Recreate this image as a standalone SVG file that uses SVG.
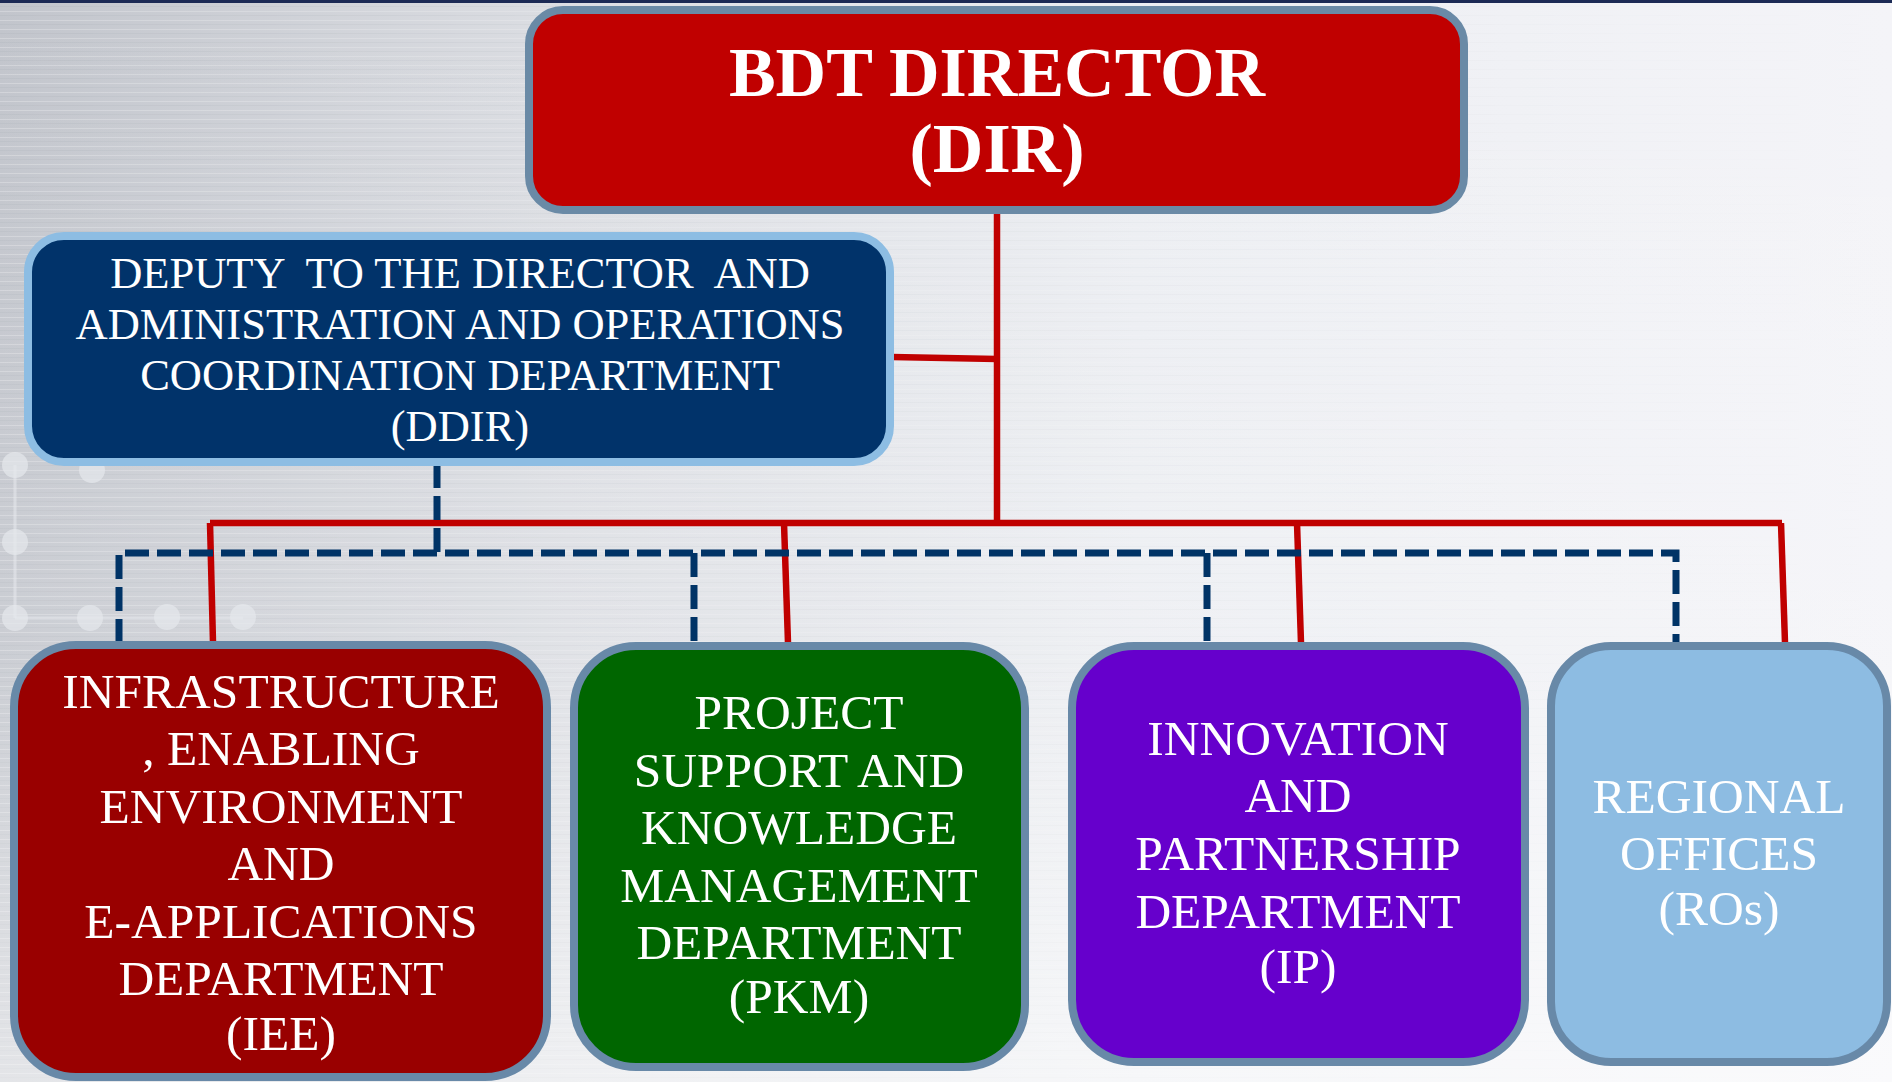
<svg xmlns="http://www.w3.org/2000/svg" width="1892" height="1082" viewBox="0 0 1892 1082">
  <defs>
    <linearGradient id="bgH" x1="0" y1="0" x2="1" y2="0">
      <stop offset="0" stop-color="#c2c5cc"/>
      <stop offset="0.3" stop-color="#dcdee3"/>
      <stop offset="0.6" stop-color="#eceef2"/>
      <stop offset="1" stop-color="#f4f4f8"/>
    </linearGradient>
    <linearGradient id="bgV" x1="0" y1="0" x2="0" y2="1">
      <stop offset="0" stop-color="#ffffff" stop-opacity="0"/>
      <stop offset="0.6" stop-color="#ffffff" stop-opacity="0.15"/>
      <stop offset="1" stop-color="#ffffff" stop-opacity="0.55"/>
    </linearGradient>
    <pattern id="brush" width="40" height="9" patternUnits="userSpaceOnUse">
      <rect x="0" y="2" width="40" height="1" fill="#ffffff" opacity="0.25"/>
      <rect x="0" y="6" width="40" height="1" fill="#9aa0aa" opacity="0.12"/>
    </pattern>
    <linearGradient id="brushFade" x1="0" y1="0" x2="1" y2="0">
      <stop offset="0" stop-color="#fff" stop-opacity="1"/>
      <stop offset="0.6" stop-color="#fff" stop-opacity="0.4"/>
      <stop offset="1" stop-color="#fff" stop-opacity="0"/>
    </linearGradient>
    <mask id="brushMask">
      <rect width="1892" height="1082" fill="url(#brushFade)"/>
    </mask>
  </defs>
  <style>
    .box { stroke-width: 8; }
    .bottom { stroke: #6889a8; }
    .t { font-family: "Liberation Serif", "Times New Roman", serif; fill: #ffffff; text-anchor: middle; }
    .dir { font-size: 70px; font-weight: bold; }
    .ddir { font-size: 44.5px; }
    .bt { font-size: 49.5px; }
    .red { stroke: #c00000; stroke-width: 6.5; fill: none; }
    .dash { stroke: #003366; stroke-width: 7; fill: none; stroke-dasharray: 24 8; }
    .deco circle { fill: #e6e8ed; opacity: 0.7; }
    .deco line { stroke: #e6e8ed; stroke-width: 3; opacity: 0.6; }
  </style>

  <!-- background -->
  <rect width="1892" height="1082" fill="url(#bgH)"/>
  <rect width="1892" height="1082" fill="url(#brush)" mask="url(#brushMask)"/>
  <rect width="1892" height="1082" fill="url(#bgV)"/>
  <rect x="0" y="0" width="1892" height="3" fill="#1c2a55"/>
  <g class="deco">
    <line x1="15" y1="465" x2="15" y2="618"/>
    <line x1="15" y1="618" x2="243" y2="618"/>
    <circle cx="15" cy="465" r="13"/>
    <circle cx="92" cy="470" r="13"/>
    <circle cx="15" cy="542" r="13"/>
    <circle cx="15" cy="618" r="13"/>
    <circle cx="90" cy="618" r="13"/>
    <circle cx="167" cy="617" r="13"/>
    <circle cx="243" cy="617" r="13"/>
  </g>

  <!-- connectors -->
  <g id="connectors">
    <path class="red" d="M997 212 V523"/>
    <path class="red" d="M892 357 L997 359"/>
    <path class="red" d="M210 523 H1782"/>
    <path class="red" d="M210 523 L213 643"/>
    <path class="red" d="M784 523 L788 643"/>
    <path class="red" d="M1297 523 L1301 643"/>
    <path class="red" d="M1781 523 L1785 643"/>
    <path class="dash" d="M437 464 V553"/>
    <path class="dash" d="M119 643 V553 H1676 V643"/>
    <path class="dash" d="M694 553 V643"/>
    <path class="dash" d="M1207 553 V659"/>
  </g>

  <g id="dir">
    <rect class="box" x="529" y="10" width="935" height="200" rx="34" fill="#c00000" stroke="#6a8aa6"/>
    <text class="t dir" x="997" y="96">BDT DIRECTOR</text>
    <text class="t dir" x="997" y="172">(DIR)</text>
  </g>

  <g id="ddir">
    <rect class="box" x="28" y="236" width="862" height="226" rx="36" fill="#01336a" stroke="#8dbde3"/>
    <text class="t ddir" x="460" y="288" xml:space="preserve">DEPUTY  TO THE DIRECTOR  AND</text>
    <text class="t ddir" x="460" y="339">ADMINISTRATION AND OPERATIONS</text>
    <text class="t ddir" x="460" y="390">COORDINATION DEPARTMENT</text>
    <text class="t ddir" x="460" y="441">(DDIR)</text>
  </g>

  <g id="iee">
    <rect class="box bottom" x="14" y="645" width="533" height="432" rx="62" fill="#990000"/>
    <text class="t bt" x="281" y="708">INFRASTRUCTURE</text>
    <text class="t bt" x="281" y="765">, ENABLING</text>
    <text class="t bt" x="281" y="823">ENVIRONMENT</text>
    <text class="t bt" x="281" y="880">AND</text>
    <text class="t bt" x="281" y="938">E-APPLICATIONS</text>
    <text class="t bt" x="281" y="995">DEPARTMENT</text>
    <text class="t bt" x="281" y="1050">(IEE)</text>
  </g>

  <g id="pkm">
    <rect class="box" x="574" y="646" width="451" height="421" rx="62" fill="#006600" stroke="#6889a8"/>
    <text class="t bt" x="799" y="729">PROJECT</text>
    <text class="t bt" x="799" y="787">SUPPORT AND</text>
    <text class="t bt" x="799" y="844">KNOWLEDGE</text>
    <text class="t bt" x="799" y="902">MANAGEMENT</text>
    <text class="t bt" x="799" y="959">DEPARTMENT</text>
    <text class="t bt" x="799" y="1013">(PKM)</text>
  </g>

  <g id="ip">
    <rect class="box" x="1072" y="646" width="453" height="416" rx="62" fill="#6600cc" stroke="#6889a8"/>
    <text class="t bt" x="1298" y="755">INNOVATION</text>
    <text class="t bt" x="1298" y="812">AND</text>
    <text class="t bt" x="1298" y="870">PARTNERSHIP</text>
    <text class="t bt" x="1298" y="928">DEPARTMENT</text>
    <text class="t bt" x="1298" y="983">(IP)</text>
  </g>

  <g id="ro">
    <rect class="box" x="1551" y="646" width="336" height="416" rx="60" fill="#8dbce2" stroke="#6889a8"/>
    <text class="t bt" x="1719" y="813">REGIONAL</text>
    <text class="t bt" x="1719" y="870">OFFICES</text>
    <text class="t bt" x="1719" y="925">(ROs)</text>
  </g>
</svg>
